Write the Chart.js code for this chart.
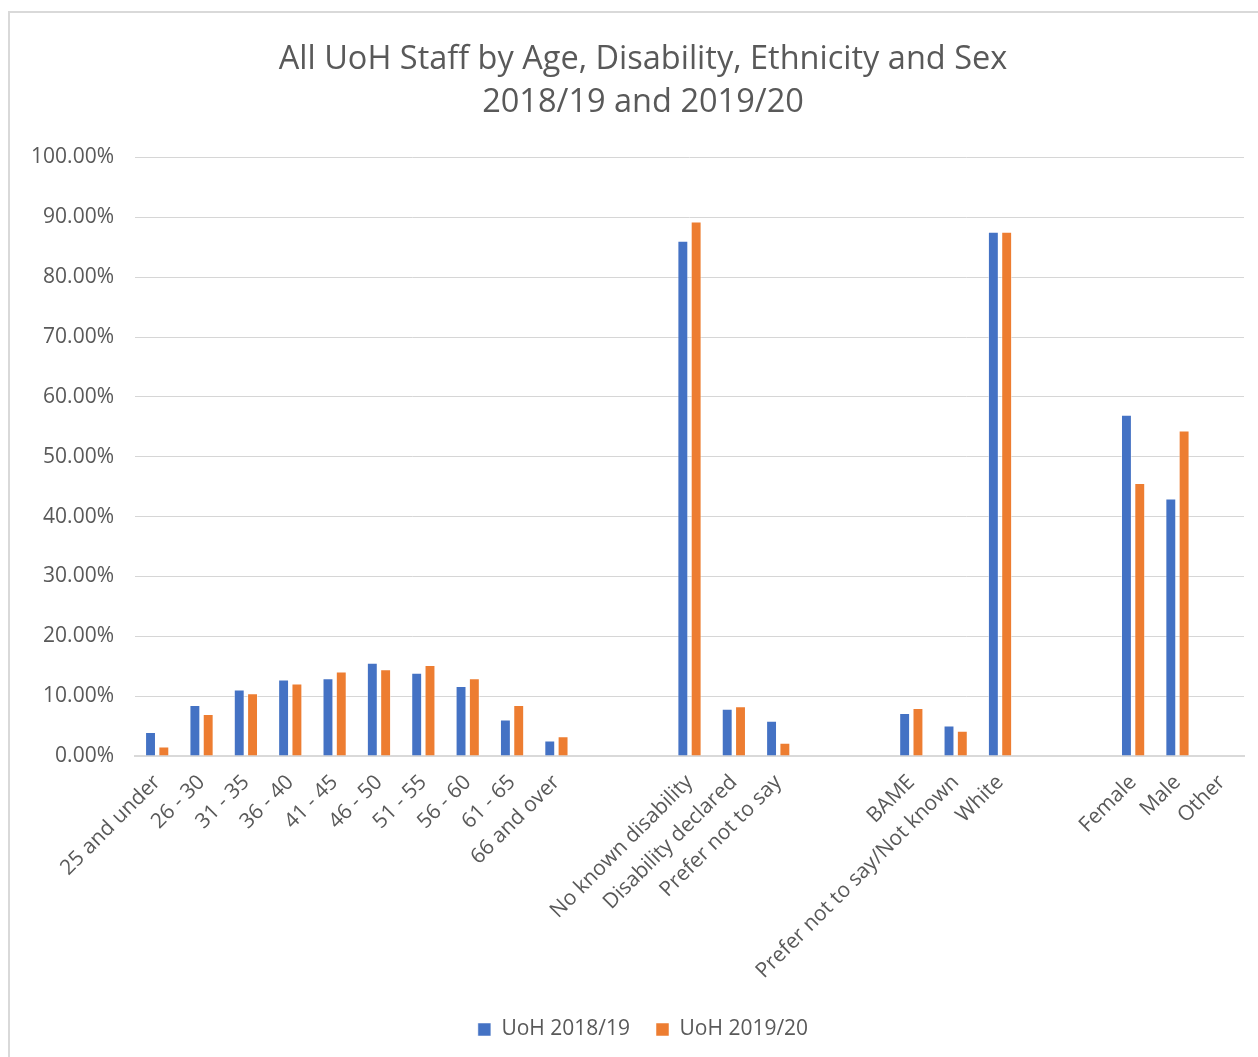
<!DOCTYPE html>
<html>
<head>
<meta charset="utf-8">
<script src="https://cdn.jsdelivr.net/npm/chart.js@4/dist/chart.umd.min.js"></script>
<style>
  html, body { margin: 0; padding: 0; background: #fff; overflow: hidden; }
  #frame {
    position: absolute; left: 8px; top: 11px;
    width: 1266px; height: 1060px;
    border-left: 2px solid #d9d9d9; border-top: 2px solid #d9d9d9;
  }
  #wrap { position: absolute; left: 0; top: 0; width: 1266px; height: 1046px; }
</style>
</head>
<body>
<div id="frame"><div id="wrap"><canvas id="chart"></canvas></div></div>
<script>
// categories ('' = spacer gaps between the groups)
const categories = [
  '25 and under', '26 - 30', '31 - 35', '36 - 40', '41 - 45', '46 - 50',
  '51 - 55', '56 - 60', '61 - 65', '66 and over',
  '', '',
  'No known disability', 'Disability declared', 'Prefer not to say',
  '', '',
  'BAME', 'Prefer not to say/Not known', 'White',
  '', '',
  'Female', 'Male', 'Other'
];

// percentages
const uoh1819 = [
  4.0, 8.5, 11.1, 12.8, 13.0, 15.6, 13.9, 11.7, 6.1, 2.6,
  null, null,
  86.1, 7.9, 5.9,
  null, null,
  7.2, 5.1, 87.6,
  null, null,
  57.0, 43.0, 0
];
const uoh1920 = [
  1.6, 7.0, 10.5, 12.1, 14.1, 14.5, 15.2, 13.0, 8.5, 3.3,
  null, null,
  89.3, 8.3, 2.2,
  null, null,
  8.0, 4.2, 87.6,
  null, null,
  45.6, 54.4, 0
];

const seriesNames = ['UoH 2018/19', 'UoH 2019/20'];
const titleLines = ['All UoH Staff by Age, Disability, Ethnicity and Sex', '2018/19 and 2019/20'];

const grey = '#595959';
const font = '"Open Sans", "Liberation Sans", sans-serif';

new Chart(document.getElementById('chart'), {
  type: 'bar',
  data: {
    labels: categories,
    datasets: [
      { label: seriesNames[0], data: uoh1819, backgroundColor: '#4472C4', borderColor: 'rgba(255,255,255,0.5)', borderWidth: 1 },
      { label: seriesNames[1], data: uoh1920, backgroundColor: '#ED7D31', borderColor: 'rgba(255,255,255,0.5)', borderWidth: 1 },
    ],
  },
  options: {
    responsive: true,
    maintainAspectRatio: false,
    animation: false,
    categoryPercentage: 0.6,
    barPercentage: 0.82,
    layout: { padding: { left: 0, right: 0, top: 0, bottom: 9 } },
    plugins: {
      title: {
        display: true,
        text: titleLines,
        color: grey,
        font: { family: font, size: 32.5, weight: 'normal', lineHeight: 1.33 },
        padding: { top: 25, bottom: 33 },
      },
      legend: {
        position: 'bottom',
        labels: {
          color: grey,
          font: { family: font, size: 21 },
          boxWidth: 13, boxHeight: 13,
          padding: 26,
        },
      },
      tooltip: { enabled: false },
    },
    scales: {
      x: {
        grid: { display: false },
        border: { color: '#d9d9d9', width: 2 },
        ticks: {
          color: grey, font: { family: font, size: 21 },
          minRotation: 45, maxRotation: 45, autoSkip: false, padding: 6,
        },
        afterFit: (scale) => { scale.height = 237; },
      },
      y: {
        min: 0, max: 100,
        grid: { color: '#d6d6d6', lineWidth: 1, drawTicks: false },
        border: { display: false },
        ticks: {
          stepSize: 10, color: grey, font: { family: font, size: 21 }, padding: 21,
          callback: (v) => v.toFixed(2) + '%',
        },
        afterFit: (scale) => { scale.width = 125; },
      },
      // empty right-hand gutter so title and legend stay centred on the frame
      gutter: {
        type: 'linear', position: 'right', display: true,
        grid: { drawOnChartArea: false, drawTicks: false },
        border: { display: false },
        ticks: { display: false },
        afterFit: (scale) => { scale.width = 32; },
      },
    },
  },
});
</script>
</body>
</html>
